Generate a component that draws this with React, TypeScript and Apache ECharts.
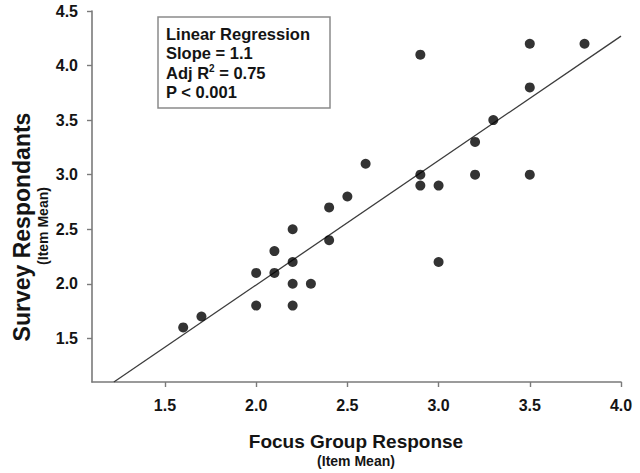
import React, { useEffect, useRef } from "react";
import * as echarts from "echarts";

const focusGroup = [1.6, 1.7, 2.0, 2.0, 2.1, 2.1, 2.2, 2.2, 2.2, 2.2, 2.3, 2.4, 2.4, 2.5, 2.6, 2.9, 2.9, 2.9, 3.0, 3.0, 3.2, 3.2, 3.3, 3.5, 3.5, 3.5, 3.8];
const survey = [1.6, 1.7, 2.1, 1.8, 2.3, 2.1, 2.5, 2.2, 2.0, 1.8, 2.0, 2.7, 2.4, 2.8, 3.1, 4.1, 3.0, 2.9, 2.9, 2.2, 3.3, 3.0, 3.5, 4.2, 3.8, 3.0, 4.2];
const fitX = [1.22, 4.0];
const fitY = [1.1, 4.27];
const xTicks = [1.5, 2.0, 2.5, 3.0, 3.5, 4.0];
const yTicks = [1.5, 2.0, 2.5, 3.0, 3.5, 4.0, 4.5];
const legendLines = ["Linear Regression", "Slope = 1.1", "Adj R", "2", " = 0.75", "P < 0.001"];

const FONT = "Arial, 'Liberation Sans', Helvetica, sans-serif";
const TXT = "#141414";

export default function App() {
  const ref = useRef<HTMLDivElement>(null);
  useEffect(() => {
    if (!ref.current) return;
    const chart = echarts.init(ref.current, null, { renderer: "svg" });
    const points = focusGroup.map((x, i) => [x, survey[i]]);
    const fit = fitX.map((x, i) => [x, fitY[i]]);
    chart.setOption({
      animation: false,
      backgroundColor: "#ffffff",
      grid: { left: 92, right: 19, top: 11, bottom: 91 },
      xAxis: {
        type: "value",
        min: 1.1,
        max: 4.0,
        axisLine: { show: true, lineStyle: { color: "#7a7a7a", width: 1.6 } },
        axisTick: { show: true, length: 5, inside: false, customValues: xTicks, lineStyle: { color: "#7a7a7a", width: 1.4 } },
        axisLabel: {
          customValues: xTicks,
          formatter: (v: number) => v.toFixed(1),
          fontFamily: FONT,
          fontWeight: "bold",
          fontSize: 16,
          color: TXT,
          margin: 15,
        },
        splitLine: { show: false },
      },
      yAxis: {
        type: "value",
        min: 1.1,
        max: 4.5,
        axisLine: { show: true, lineStyle: { color: "#7a7a7a", width: 1.6 } },
        axisTick: { show: true, length: 5, inside: false, customValues: yTicks, lineStyle: { color: "#7a7a7a", width: 1.4 } },
        axisLabel: {
          customValues: yTicks,
          formatter: (v: number) => v.toFixed(1),
          fontFamily: FONT,
          fontWeight: "bold",
          fontSize: 16,
          color: TXT,
          margin: 14,
        },
        splitLine: { show: false },
      },
      series: [
        {
          type: "line",
          data: fit,
          showSymbol: false,
          symbol: "none",
          lineStyle: { color: "#3c3c3c", width: 1.3 },
          z: 2,
        },
        {
          type: "scatter",
          data: points,
          symbol: "circle",
          symbolSize: 10,
          itemStyle: { color: "#000000" },
          z: 3,
        },
      ],
      graphic: [
        {
          type: "rect",
          shape: { x: 158, y: 17, width: 172, height: 91 },
          style: { fill: "#ffffff", stroke: "#8a8a8a", lineWidth: 1.5 },
          z: 10,
        },
        {
          type: "text",
          x: 166,
          y: 33.5,
          style: { text: legendLines[0], font: `bold 16.5px ${FONT}`, fill: TXT, verticalAlign: "middle" },
          z: 11,
        },
        {
          type: "text",
          x: 166,
          y: 53,
          style: { text: legendLines[1], font: `bold 16.5px ${FONT}`, fill: TXT, verticalAlign: "middle" },
          z: 11,
        },
        {
          type: "text",
          x: 166,
          y: 72.5,
          style: {
            text: `{a|${legendLines[2]}}{s|${legendLines[3]}}{a|${legendLines[4]}}`,
            verticalAlign: "middle",
            rich: {
              a: { fontFamily: FONT, fontWeight: "bold", fontSize: 16.5, fill: TXT, color: TXT, lineHeight: 19 },
              s: { fontFamily: FONT, fontWeight: "bold", fontSize: 10, fill: TXT, color: TXT, lineHeight: 19, verticalAlign: "top", padding: [0, 0, 8, 0] },
            },
          },
          z: 11,
        },
        {
          type: "text",
          x: 166,
          y: 92,
          style: { text: legendLines[5], font: `bold 16.5px ${FONT}`, fill: TXT, verticalAlign: "middle" },
          z: 11,
        },
        {
          type: "text",
          x: 356,
          y: 441,
          style: { text: "Focus Group Response", font: `bold 19px ${FONT}`, fill: TXT, align: "center", verticalAlign: "middle" },
        },
        {
          type: "text",
          x: 356,
          y: 461,
          style: { text: "(Item Mean)", font: `bold 14px ${FONT}`, fill: TXT, align: "center", verticalAlign: "middle" },
        },
        {
          type: "text",
          x: 22,
          y: 227,
          rotation: Math.PI / 2,
          style: { text: "Survey Respondants", font: `bold 23px ${FONT}`, fill: TXT, align: "center", verticalAlign: "middle" },
        },
        {
          type: "text",
          x: 43,
          y: 226,
          rotation: Math.PI / 2,
          style: { text: "(Item Mean)", font: `bold 14px ${FONT}`, fill: TXT, align: "center", verticalAlign: "middle" },
        },
      ],
    });
    return () => chart.dispose();
  }, []);
  return <div ref={ref} style={{ position: "absolute", left: 0, top: 0, width: 640, height: 473 }} />;
}
